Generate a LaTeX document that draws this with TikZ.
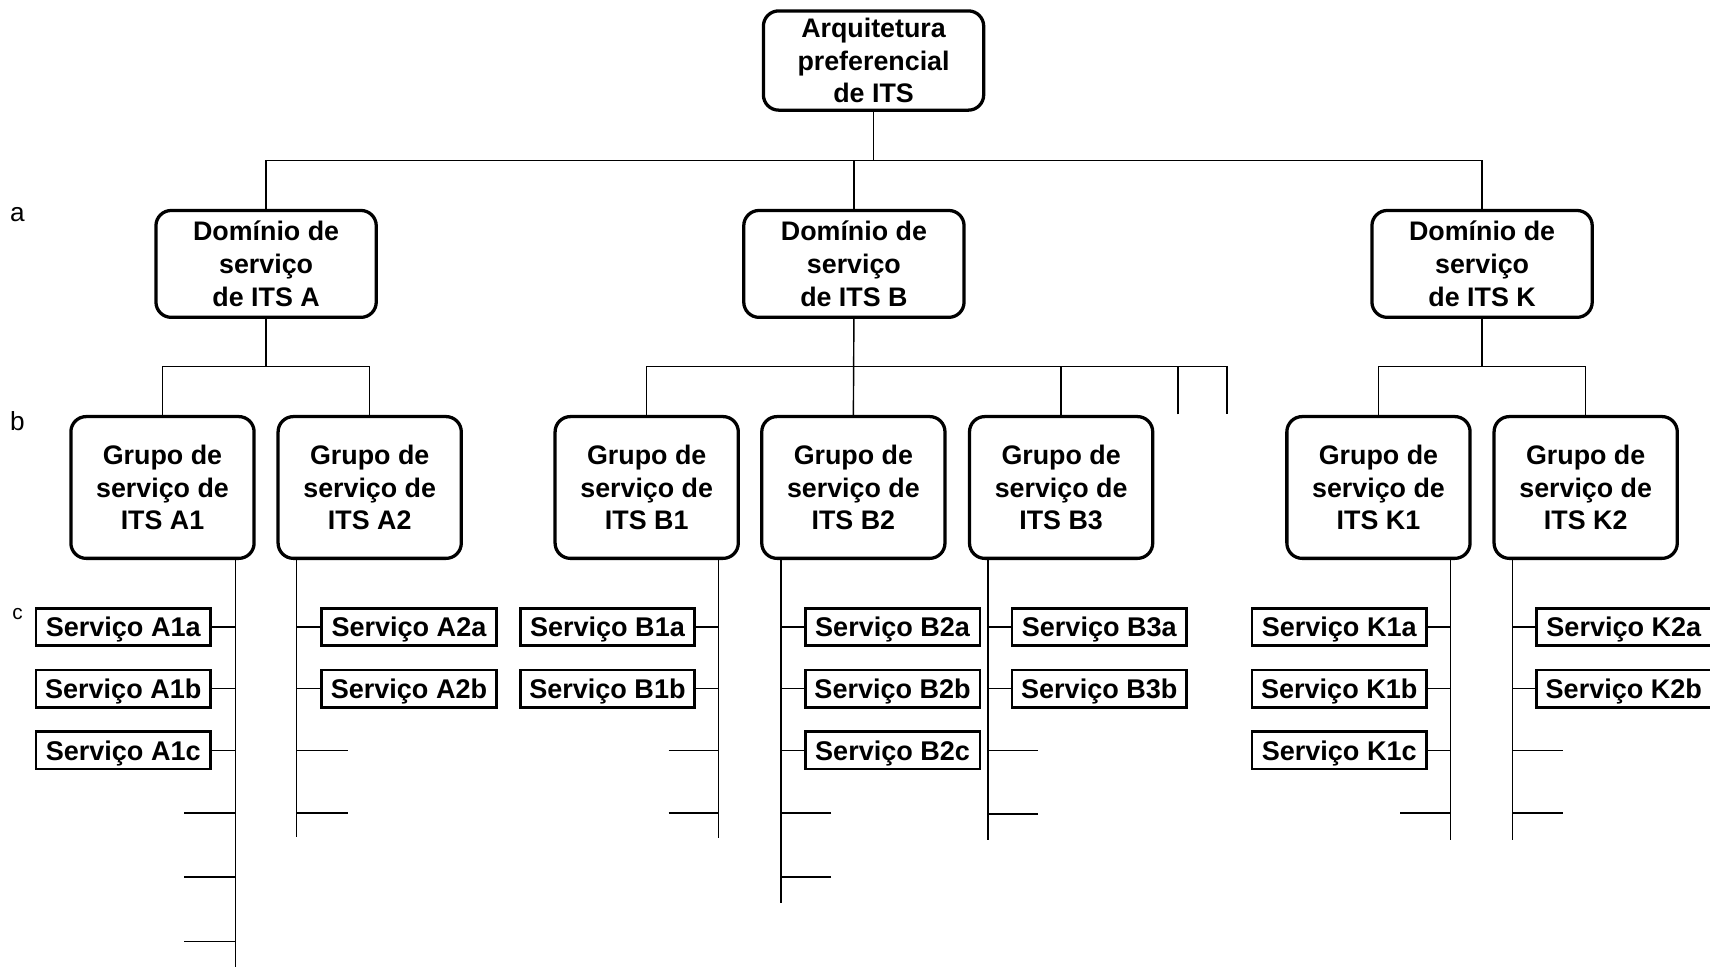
\documentclass[tikz,border=0pt]{standalone}
\usepackage{fontspec}
\setmainfont{Liberation Sans}
\begin{document}
\begin{tikzpicture}[x=0.5pt,y=-0.5pt,
  box/.style={draw,line width=1.5pt,rounded corners=7pt,align=center,inner sep=0pt,font=\fontsize{12.3}{15}\selectfont\bfseries},
  topbox/.style={box,minimum width=101pt,minimum height=45.5pt},
  dom/.style={box,minimum width=101pt,minimum height=49pt},
  grp/.style={box,minimum width=84pt,minimum height=65pt},
  svc/.style={draw,line width=1.2pt,inner sep=0pt,minimum width=80pt,minimum height=17pt,text height=9pt,text depth=0pt,font=\fontsize{12.4}{15}\selectfont\bfseries},
  conn/.style={line width=0.65pt},
  lvl/.style={inner sep=0pt,font=\fontsize{12}{14}\selectfont},
  lvlc/.style={inner sep=0pt,font=\fontsize{9.5}{11}\selectfont}]
\useasboundingbox (0,0) rectangle (1568,887);

% level labels
\node[lvl] (la) at (16,197) {a};
\node[lvl] (lb) at (16,386) {b};
\node[lvlc] (lc) at (16,563) {c};

% top
\node[topbox] (top) at (801,55.5) {Arquitetura\\preferencial\\de ITS};

% domains
\node[dom] (A) at (244,242) {Domínio de\\serviço\\de ITS A};
\node[dom] (B) at (783,242) {Domínio de\\serviço\\de ITS B};
\node[dom] (K) at (1359,242) {Domínio de\\serviço\\de ITS K};

% groups
\node[grp] (A1) at (149,447) {Grupo de\\serviço de\\ITS A1};
\node[grp] (A2) at (339,447) {Grupo de\\serviço de\\ITS A2};
\node[grp] (B1) at (593,447) {Grupo de\\serviço de\\ITS B1};
\node[grp] (B2) at (782.5,447) {Grupo de\\serviço de\\ITS B2};
\node[grp] (B3) at (973,447) {Grupo de\\serviço de\\ITS B3};
\node[grp] (K1) at (1264,447) {Grupo de\\serviço de\\ITS K1};
\node[grp] (K2) at (1454,447) {Grupo de\\serviço de\\ITS K2};

% services
\node[svc] (A1a) at (113,575) {Serviço A1a};
\node[svc] (A1b) at (113,631.5) {Serviço A1b};
\node[svc] (A1c) at (113,688) {Serviço A1c};
\node[svc] (A2a) at (375,575) {Serviço A2a};
\node[svc] (A2b) at (375,631.5) {Serviço A2b};
\node[svc] (B1a) at (557,575) {Serviço B1a};
\node[svc] (B1b) at (557,631.5) {Serviço B1b};
\node[svc] (B2a) at (818.5,575) {Serviço B2a};
\node[svc] (B2b) at (818.5,631.5) {Serviço B2b};
\node[svc] (B2c) at (818.5,688) {Serviço B2c};
\node[svc] (B3a) at (1008,575) {Serviço B3a};
\node[svc] (B3b) at (1008,631.5) {Serviço B3b};
\node[svc] (K1a) at (1228,575) {Serviço K1a};
\node[svc] (K1b) at (1228,631.5) {Serviço K1b};
\node[svc] (K1c) at (1228,688) {Serviço K1c};
\node[svc] (K2a) at (1489,575) {Serviço K2a};
\node[svc] (K2b) at (1489,631.5) {Serviço K2b};

% bus levels
\coordinate (bus0) at (0,147);
\coordinate (bus1) at (0,336);

% top level connectors
\draw[conn] (top.south) -- (top.south |- bus0);
\draw[conn] (A.north) -- (A.north |- bus0) -- (K.north |- bus0) -- (K.north);
\draw[conn] (B.north) -- (B.north |- bus0);

% domain A
\draw[conn] (A.south) -- (A.south |- bus1);
\draw[conn] (A1.north) -- (A1.north |- bus1) -- (A2.north |- bus1) -- (A2.north);
% domain B
\coordinate (Bx1) at (1080,380);
\coordinate (Bx2) at (1125,380);
\draw[conn] (B.south) -- (B2.north);
\draw[conn] (B1.north) -- (B1.north |- bus1) -- (Bx2 |- bus1) -- (Bx2);
\draw[conn] (B3.north) -- (B3.north |- bus1);
\draw[conn] (Bx1) -- (Bx1 |- bus1);
% domain K
\draw[conn] (K.south) -- (K.south |- bus1);
\draw[conn] (K1.north) -- (K1.north |- bus1) -- (K2.north |- bus1) -- (K2.north);

% group stems
\coordinate (A1end) at (216,887);
\coordinate (A2end) at (272,767.5);
\coordinate (B1end) at (659,768);
\coordinate (B2end) at (716,828);
\coordinate (B3end) at (906,770);
\coordinate (K1end) at (1330,770);
\coordinate (K2end) at (1387,770);
\foreach \g in {A1,A2,B1,B2,B3,K1,K2}{
  \draw[conn] (\g.south -| \g end) -- (\g end);
}

% ticks to service boxes
\foreach \s/\g in {A1a/A1,A1b/A1,A1c/A1,B1a/B1,B1b/B1,K1a/K1,K1b/K1,K1c/K1}{
  \draw[conn] (\s.east) -- (\s.east -| \g end);
}
\foreach \s/\g in {A2a/A2,A2b/A2,B2a/B2,B2b/B2,B2c/B2,B3a/B3,B3b/B3,K2a/K2,K2b/K2}{
  \draw[conn] (\s.west) -- (\s.west -| \g end);
}

% empty ticks
\coordinate (tA1a) at (169,745.5);
\coordinate (tA1b) at (169,804);
\coordinate (tA1c) at (169,863.5);
\coordinate (tA2a) at (319,688);
\coordinate (tA2b) at (319,745.5);
\coordinate (tB1a) at (613,688);
\coordinate (tB1b) at (613,745.5);
\coordinate (tB2a) at (762,745.5);
\coordinate (tB2b) at (762,804);
\coordinate (tB3a) at (952,688);
\coordinate (tB3b) at (952,746.5);
\coordinate (tK1a) at (1284,745.5);
\coordinate (tK2a) at (1433,688);
\coordinate (tK2b) at (1433,745.5);
\foreach \t/\g in {tA1a/A1,tA1b/A1,tA1c/A1,tA2a/A2,tA2b/A2,tB1a/B1,tB1b/B1,tB2a/B2,tB2b/B2,tB3a/B3,tB3b/B3,tK1a/K1,tK2a/K2,tK2b/K2}{
  \draw[conn] (\t) -- (\t -| \g end);
}
\end{tikzpicture}
\end{document}
